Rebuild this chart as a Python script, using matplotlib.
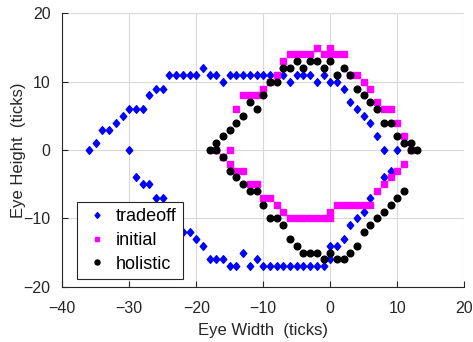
import numpy as np
import matplotlib.pyplot as plt
from matplotlib.path import Path

plt.rcParams['font.family'] = ['Liberation Sans', 'DejaVu Sans']

# eye contour points, (width, height) in ticks
tradeoff_x = [-36, -35, -34, -33, -32, -31, -30, -29, -28, -27, -26, -25, -24, -23, -22, -21, -20, -19, -18, -17,
              -16, -15, -14, -13, -12, -11, -10, -9, -7, -6, -5, -4, -3, -2, -1, 0, 1, 2, 3, 4, 5, 6, 7, 8, 10,
              9, 8, 6, 5, 4, 3, 2, 1, 0, 0, -1, -2, -3, -4, -5, -6, -7, -8, -9, -10,
              -11, -12, -13, -14, -15, -16, -17, -18, -19, -20, -21, -22, -23, -24, -25, -26, -27, -28, -29, -30]
tradeoff_y = [0, 1, 3, 3, 4, 5, 6, 6, 6, 8, 9, 9, 11, 11, 11, 11, 11, 12, 11, 11,
              10, 11, 11, 11, 11, 11, 11, 11, 11, 10, 11, 11, 11, 10, 11, 10, 10, 9, 7, 6, 5, 4, 2, 0, 0,
              -3, -4, -7, -9, -10, -11, -13, -14, -14, -16, -17, -17, -17, -17, -17, -17, -17, -17, -17, -17,
              -16, -17, -15, -17, -17, -16, -16, -16, -14, -13, -12, -12, -10, -9, -7, -7, -5, -5, -4, 0]

initial_x = [-17, -16, -15, -14, -13, -12, -11, -10, -9, -8, -7, -6, -5, -4, -3, -2, -1, 0, 0, 1, 2,
             3, 4, 5, 6, 7, 8, 9, 10, 11, 12, 11, 10, 9, 8, 7, 6, 5, 4, 3, 2, 1, 0, 0,
             -1, -2, -3, -4, -5, -6, -7, -8, -9, -10, -11, -12, -13, -14, -15]
initial_y = [0, -1, 0, 6, 8, 8, 8, 9, 10, 11, 13, 14, 14, 14, 14, 15, 14, 15, 14, 14, 14,
             11, 11, 10, 9, 7, 6, 6, 4, 2, 0, -2, -3, -4, -5, -6, -8, -8, -8, -8, -8, -8, -9, -10,
             -10, -10, -10, -10, -10, -10, -9, -8, -7, -7, -5, -5, -3, -3, -2]

holistic_x = [-18, -17, -17, -16, -15, -14, -13, -12, -11, -10, -9, -8, -7, -6, -5, -4, -3, -2, -1, 0,
              1, 2, 3, 4, 5, 6, 7, 8, 9, 10, 11, 12, 12, 13, 11, 10, 9, 8, 7, 6, 5, 4, 3, 2, 1, 0,
              -1, -2, -3, -4, -5, -6, -7, -8, -9, -10, -11, -12, -13, -14, -15, -16]
holistic_y = [0, 0, 1, 2, 3, 4, 5, 7, 6, 8, 10, 10, 12, 12, 13, 12, 13, 13, 12, 13,
              11, 12, 11, 9, 8, 7, 6, 4, 4, 2, 1, 1, 0, 0, -6, -7, -8, -9, -10, -11, -12, -14, -15, -16, -16, -15,
              -16, -15, -15, -15, -14, -13, -11, -10, -10, -8, -6, -6, -5, -4, -3, -1]

# diamond a bit taller than wide
diamond = Path([(0, 1), (0.85, 0), (0, -1), (-0.85, 0), (0, 1)],
               [Path.MOVETO, Path.LINETO, Path.LINETO, Path.LINETO, Path.CLOSEPOLY])

fig = plt.figure(figsize=(4.73, 3.42), dpi=100)
ax = fig.add_axes([0.1317, 0.1617, 0.8499, 0.7993])

ax.plot(tradeoff_x, tradeoff_y, linestyle='none', marker=diamond, markersize=5.5,
        color=(0, 0, 1), label='tradeoff')
ax.plot(initial_x, initial_y, linestyle='none', marker='s', markersize=4.6,
        color=(1, 0, 1), label='initial')
ax.plot(holistic_x, holistic_y, linestyle='none', marker='o', markersize=4.8,
        color='black', label='holistic')

ax.set_xlim(-40, 20)
ax.set_ylim(-20, 20)
ax.set_xticks(np.arange(-40, 21, 10))
ax.set_yticks(np.arange(-20, 21, 10))
ax.grid(True, color='#d9d9d9', linewidth=0.8)
ax.set_axisbelow(True)
for side in ['top', 'right']:
    ax.spines[side].set_visible(False)
for side in ['left', 'bottom']:
    ax.spines[side].set_color('#262626')
ax.tick_params(direction='in', length=4, color='#262626', labelsize=11.5, labelcolor='#262626')
ax.tick_params(axis='x', pad=10)
ax.tick_params(axis='y', pad=8.5)

ax.set_xlabel('Eye Width  (ticks)', fontsize=12, color='#262626')
ax.set_ylabel('Eye Height  (ticks)', fontsize=12, color='#262626')
ax.xaxis.set_label_coords(0.5, -0.133)
ax.yaxis.set_label_coords(-0.090, 0.5)

leg = ax.legend(loc='lower left', bbox_to_anchor=(0.0366, 0.028), borderaxespad=0, fontsize=13,
                frameon=True, fancybox=False, framealpha=1, edgecolor='#262626', markerscale=0.75,
                handlelength=1.53, handletextpad=0.29, borderpad=0.35, labelspacing=0.38)
leg.get_frame().set_linewidth(0.8)

plt.savefig('out.png', dpi=100)
